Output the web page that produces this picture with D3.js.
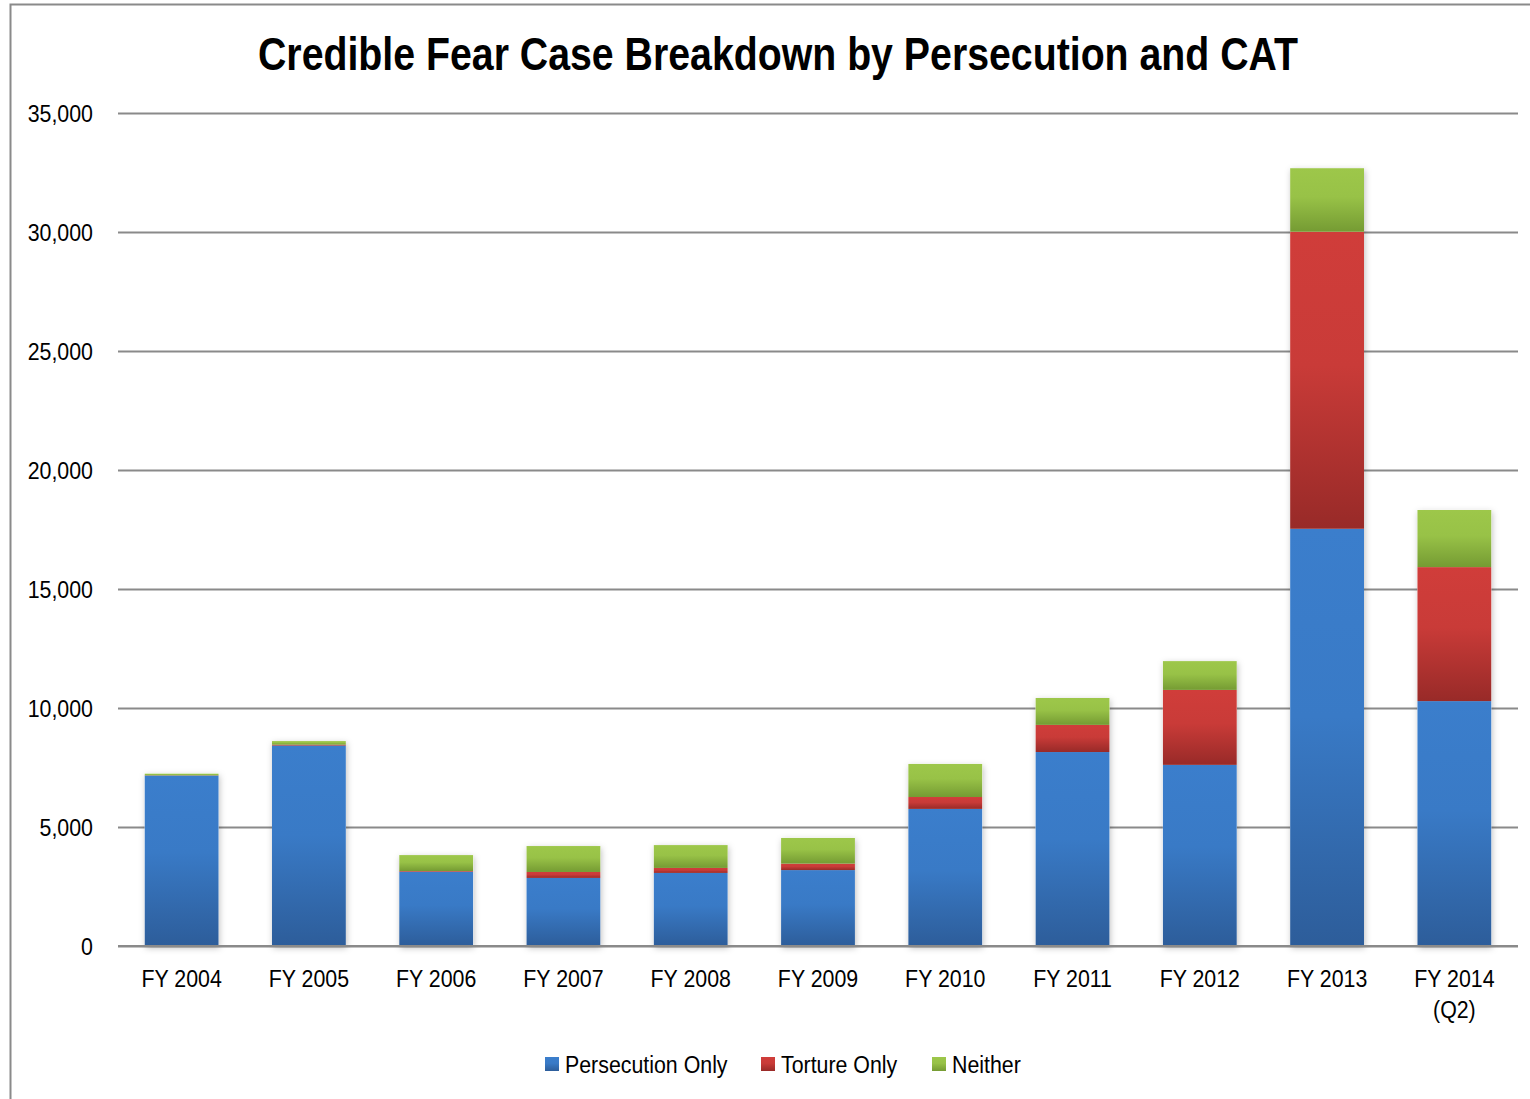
<!DOCTYPE html>
<html lang="en">
<head>
<meta charset="utf-8">
<title>Credible Fear Case Breakdown</title>
<script src="https://cdn.jsdelivr.net/npm/d3@7"></script>
<style>
  body { margin: 0; background: #fff; }
  svg text { font-family: "Liberation Sans", Arial, sans-serif; fill: #000; }
</style>
</head>
<body>
<script>
// data
var years = ["FY 2004", "FY 2005", "FY 2006", "FY 2007", "FY 2008", "FY 2009", "FY 2010", "FY 2011", "FY 2012", "FY 2013", "FY 2014\n(Q2)"];
var persecutionOnly = [7160, 8420, 3120, 2860, 3070, 3190, 5760, 8150, 7610, 17530, 10290];
var tortureOnly     = [10,   40,   30,   250,  210,  270,  500,  1140, 3150, 12480, 5630];
var neither         = [70,   150,  670,  1090, 960,  1080, 1390, 1130, 1210, 2670,  2400];
var seriesNames = ["Persecution Only", "Torture Only", "Neither"];
var yTicks = [0, 5000, 10000, 15000, 20000, 25000, 30000, 35000];

var W = 1530, H = 1099;
var mLeft = 118, mRight = 1518, mTop = 113, mBottom = 946;
var narrow = 0.89; // no narrow font installed, squeeze horizontally

var svg = d3.select("body").append("svg")
  .attr("width", W).attr("height", H);

var defs = svg.append("defs");
// top-light, bottom-dark gradients like the office chart
var grads = [
  { id: "gBlue",  c0: "#3b7ecc", c1: "#2d5d9a" },
  { id: "gRed",   c0: "#d03d3a", c1: "#982a28" },
  { id: "gGreen", c0: "#9dc74a", c1: "#759b33" }
];
grads.forEach(function(g) {
  var lg = defs.append("linearGradient").attr("id", g.id)
    .attr("x1", 0).attr("y1", 0).attr("x2", 0).attr("y2", 1);
  lg.append("stop").attr("offset", "0%").attr("stop-color", g.c0);
  lg.append("stop").attr("offset", "45%").attr("stop-color", d3.interpolateRgb(g.c0, g.c1)(0.12));
  lg.append("stop").attr("offset", "100%").attr("stop-color", g.c1);
});
var flt = defs.append("filter").attr("id", "shadow")
  .attr("x", "-20%").attr("y", "-10%").attr("width", "140%").attr("height", "120%");
flt.append("feDropShadow").attr("dx", 1).attr("dy", 2).attr("stdDeviation", 3)
  .attr("flood-color", "#000").attr("flood-opacity", 0.25);

// outer frame
svg.append("path")
  .attr("d", "M10.5," + H + " L10.5,4.5 L" + W + ",4.5")
  .attr("fill", "none").attr("stroke", "#8a8a8a").attr("stroke-width", 2);

// title
svg.append("text")
  .attr("x", 258).attr("y", 70)
  .attr("textLength", 1040).attr("lengthAdjust", "spacingAndGlyphs")
  .style("font-size", "46px").style("font-weight", "bold")
  .text("Credible Fear Case Breakdown by Persecution and CAT");

var x = d3.scaleBand().domain(years).range([mLeft, mRight]).paddingInner(0.42).paddingOuter(0.21);
var y = d3.scaleLinear().domain([0, 35000]).range([mBottom, mTop]);

// gridlines + y labels
var yAxis = d3.axisLeft(y).tickValues(yTicks)
  .tickSize(-(mRight - mLeft)).tickPadding(25)
  .tickFormat(d3.format(","));
var gy = svg.append("g").attr("transform", "translate(" + mLeft + ",0)").call(yAxis);
gy.select(".domain").remove();
gy.selectAll("line").attr("stroke", "#8a8a8a").attr("stroke-width", 2);
gy.selectAll("text")
  .attr("x", null).attr("dy", null)
  .attr("transform", "translate(-25,8) scale(" + narrow + ",1)")
  .attr("text-anchor", "end")
  .style("font-size", "24px");

// stacked bars
var table = years.map(function(yr, i) {
  return { year: yr, "Persecution Only": persecutionOnly[i], "Torture Only": tortureOnly[i], "Neither": neither[i] };
});
var stack = d3.stack().keys(seriesNames)(table);
var fills = ["url(#gBlue)", "url(#gRed)", "url(#gGreen)"];

// shadow behind whole column
svg.append("g").selectAll("rect")
  .data(table).enter().append("rect")
  .attr("x", function(d) { return x(d.year); })
  .attr("width", x.bandwidth())
  .attr("y", function(d, i) { return y(stack[2][i][1]); })
  .attr("height", function(d, i) { return y(0) - y(stack[2][i][1]); })
  .attr("fill", "#fff")
  .attr("filter", "url(#shadow)");

svg.append("g").selectAll("g")
  .data(stack).enter().append("g")
  .attr("fill", function(d, i) { return fills[i]; })
  .selectAll("rect")
  .data(function(d) { return d; }).enter().append("rect")
  .attr("x", function(d) { return x(d.data.year); })
  .attr("width", x.bandwidth())
  .attr("y", function(d) { return y(d[1]); })
  .attr("height", function(d) { return y(d[0]) - y(d[1]); });

// x axis (baseline only, no ticks)
var xAxis = d3.axisBottom(x).tickSize(0).tickPadding(0);
var gx = svg.append("g").attr("transform", "translate(0," + mBottom + ")").call(xAxis);
gx.select(".domain").attr("stroke", "#8a8a8a").attr("stroke-width", 2)
  .attr("d", "M" + mLeft + ",0H" + mRight);
gx.selectAll(".tick text").remove();
gx.selectAll(".tick").each(function(d) {
  var t = d3.select(this).append("text")
    .attr("text-anchor", "middle")
    .attr("transform", "scale(" + narrow + ",1)")
    .style("font-size", "24px")
    .attr("fill", "#000");
  d.split("\n").forEach(function(line, k) {
    t.append("tspan").attr("x", 0).attr("y", 41 + k * 31).text(line);
  });
});

// legend
var legendX = [545, 761, 932];
var legendColors = ["url(#gBlue)", "url(#gRed)", "url(#gGreen)"];
var lg = svg.append("g");
seriesNames.forEach(function(name, i) {
  lg.append("rect").attr("x", legendX[i]).attr("y", 1057)
    .attr("width", 14).attr("height", 14).attr("fill", legendColors[i]);
  lg.append("text")
    .attr("transform", "translate(" + (legendX[i] + 20) + ",1073) scale(" + narrow + ",1)")
    .style("font-size", "24px").text(name);
});
</script>
</body>
</html>
